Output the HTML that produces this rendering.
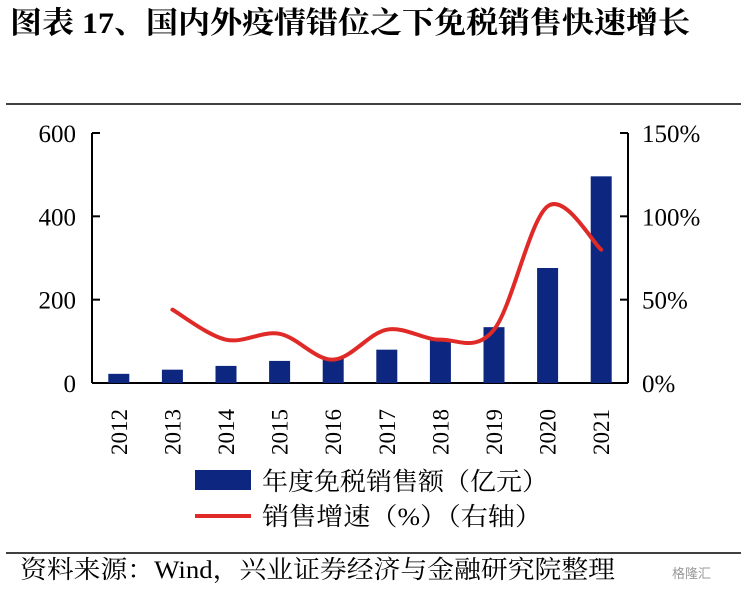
<!DOCTYPE html>
<html><head><meta charset="utf-8"><style>
body{margin:0;background:#fff;width:747px;height:586px;overflow:hidden;font-family:"Liberation Serif","Noto Serif CJK SC",serif}
</style></head><body>
<svg width="747" height="586" xmlns="http://www.w3.org/2000/svg">
<text x="10" y="33" font-size="30" font-weight="bold" textLength="680" lengthAdjust="spacingAndGlyphs" font-family="Liberation Serif, Noto Serif CJK SC, serif">图表 17、国内外疫情错位之下免税销售快速增长</text>
<line x1="6" y1="104" x2="741" y2="104" stroke="#000" stroke-width="1.5"/>
<line x1="6" y1="553" x2="741" y2="553" stroke="#000" stroke-width="1.5"/>
<text x="20" y="578" font-size="25" textLength="595" lengthAdjust="spacingAndGlyphs" font-family="Liberation Serif, Noto Serif CJK SC, serif">资料来源：Wind，兴业证券经济与金融研究院整理</text>
<text x="672" y="578" font-size="13" fill="#999" font-family="Liberation Sans, Noto Sans CJK SC, sans-serif">格隆汇</text>
<g id="plot"></g>
</svg>
<script>
const years=["2012","2013","2014","2015","2016","2017","2018","2019","2020","2021"];
const sales=[22,32,41,53,59,80,105,134,276,496];
const growth=[null,44,26,29.5,14,32,26,32,106,80];
const leftTicks=[0,200,400,600];
const rightTicks=[0,50,100,150];
const NS="http://www.w3.org/2000/svg";
const g=document.getElementById("plot");
const L=92,R=628,B=383,T=133;
const band=(R-L)/years.length;
const x=i=>L+band*(i+0.5);
const yL=v=>B-(v/600)*(B-T);
const yR=v=>B-(v/150)*(B-T);
function mk(t,a){const e=document.createElementNS(NS,t);for(const k in a)e.setAttribute(k,a[k]);g.appendChild(e);return e;}
let e;
e=mk("line",{x1:L,y1:T,x2:L,y2:B,stroke:"#000","stroke-width":2});


e=mk("line",{x1:R,y1:T,x2:R,y2:B,stroke:"#000","stroke-width":2});


e=mk("line",{x1:L,y1:B,x2:R,y2:B,stroke:"#000","stroke-width":2});


leftTicks.forEach(v=>{
 e=mk("line",{x1:L,y1:yL(v),x2:L+8,y2:yL(v),stroke:"#000","stroke-width":2});
 
 
 e=mk("text",{x:L-16,y:yL(v)+9,"font-size":25,"text-anchor":"end"});e.textContent=v;
 
 
});
rightTicks.forEach(v=>{
 e=mk("line",{x1:R-8,y1:yR(v),x2:R,y2:yR(v),stroke:"#000","stroke-width":2});
 
 
 e=mk("text",{x:R+14,y:yR(v)+9,"font-size":25});e.textContent=v+"%";
 
 
});
years.forEach((yr,i)=>{
 e=mk("rect",{x:x(i)-10.5,y:yL(sales[i]),width:21,height:B-yL(sales[i]),fill:"#0d2680"});
 
 
 e=mk("text",{transform:`translate(${x(i)+8},${455}) rotate(-90)`,"font-size":23});e.textContent=yr;
 
 
});
const pts=[];growth.forEach((v,i)=>{if(v!==null)pts.push([x(i),yR(v)]);});
let d=`M${pts[0][0]},${pts[0][1]}`;
for(let i=0;i<pts.length-1;i++){
 const p0=pts[Math.max(i-1,0)],p1=pts[i],p2=pts[i+1],p3=pts[Math.min(i+2,pts.length-1)];
 const c1=[p1[0]+(p2[0]-p0[0])/6,p1[1]+(p2[1]-p0[1])/6],c2=[p2[0]-(p3[0]-p1[0])/6,p2[1]-(p3[1]-p1[1])/6];
 d+=` C${c1[0]},${c1[1]} ${c2[0]},${c2[1]} ${p2[0]},${p2[1]}`;
}
e=mk("path",{d:d,fill:"none",stroke:"#e02a27","stroke-width":4,"stroke-linecap":"round"});


e=mk("rect",{x:195,y:470,width:56,height:20,fill:"#0d2680"});


e=mk("text",{x:262,y:490,"font-size":25,textLength:286,lengthAdjust:"spacingAndGlyphs"});e.textContent="年度免税销售额（亿元）";


e=mk("line",{x1:195,y1:516,x2:251,y2:516,stroke:"#e02a27","stroke-width":4});


e=mk("text",{x:262,y:525,"font-size":25,textLength:280,lengthAdjust:"spacingAndGlyphs"});e.textContent="销售增速（%）（右轴）";


</script>
</body></html>
